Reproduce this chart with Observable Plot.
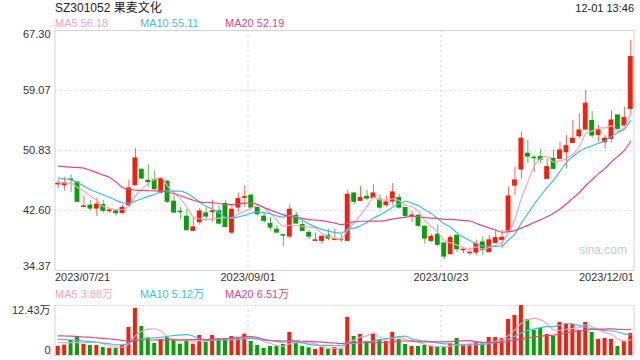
<!DOCTYPE html>
<html><head><meta charset="utf-8">
<script src="https://cdn.jsdelivr.net/npm/d3@7"></script>
<script src="https://cdn.jsdelivr.net/npm/@observablehq/plot@0.6"></script>
<style>
body{margin:0;background:#fff;}
#wrap{position:relative;width:640px;height:360px;overflow:hidden;font-family:"Liberation Sans",Arial,"Noto Sans CJK SC",sans-serif;}
.t{position:absolute;white-space:nowrap;line-height:1;}
#main,#vol{position:absolute;left:0;}
#main{top:0;} #vol{top:300px;}
</style></head><body><div id="wrap"><div id="main"></div><div id="vol"></div></div>
<script>
// ---- data ----
const title = "SZ301052 果麦文化";
const stamp = "12-01 13:46";
const monthDays = [
  ["2023/07", [21,24,25,26,27,28,31]],
  ["2023/08", [1,2,3,4,7,8,9,10,11,14,15,16,17,18,21,22,23,24,25,28,29,30,31]],
  ["2023/09", [1,4,5,6,7,8,11,12,13,14,15,18,19,20,21,22,25,26,27,28]],
  ["2023/10", [9,10,11,12,13,16,17,18,19,20,23,24,25,26,27,30,31]],
  ["2023/11", [1,2,3,6,7,8,9,10,13,14,15,16,17,20,21,22,23,24,27,28,29,30]],
  ["2023/12", [1]]
];
const open  = [46.2,46.1,46.85,46.44,43.1,43.25,42.88,43.34,42.52,42.46,42.24,43.34,46.08,48.18,46.67,46.77,45.07,46.54,43.8,42.42,
  41.74,39.82,41.0,42.19,42.38,42.46,43.48,39.58,43.01,44.35,44.62,42.93,41.74,40.73,39.95,39.22,39.03,41.87,40.59,39.5,
  38.44,38.44,39.13,38.56,38.62,38.44,44.93,43.93,44.48,44.3,44.07,43.34,43.84,44.3,42.93,41.78,41.87,40.36,38.44,39.27,
  38.07,36.62,39.13,37.15,36.76,36.84,38.21,36.89,38.17,38.58,39.86,46.03,48.23,50.38,49.83,49.92,46.95,49.69,49.69,50.6,
  51.88,52.8,53.71,54.87,52.98,51.98,52.44,55.63,54.26,56.55];
const high  = [46.77,47.13,47.45,46.5,44.62,44.0,44.3,44.0,42.87,42.65,43.34,46.77,51.16,48.3,48.87,48.05,47.04,46.7,44.62,43.01,
  42.79,41.56,42.9,43.01,44.03,43.15,43.93,43.48,45.0,45.99,44.85,43.0,42.33,41.64,40.5,39.3,43.38,42.33,41.19,39.91,
  39.5,39.13,40.05,40.05,39.36,45.4,44.93,45.9,45.4,46.13,44.75,44.62,46.3,44.85,42.93,42.56,42.0,40.5,39.36,40.64,
  38.07,39.13,39.22,37.53,37.44,38.54,38.99,39.17,39.86,39.86,45.81,48.55,53.35,52.2,50.14,51.0,49.69,50.88,51.98,52.89,
  54.94,55.87,59.07,56.19,54.26,52.89,56.32,55.73,56.78,65.92];
const low   = [45.62,45.3,45.07,43.66,43.05,42.56,41.78,42.19,42.24,41.83,42.2,43.15,45.99,46.9,45.76,45.44,44.85,43.6,42.3,41.42,
  39.82,39.68,40.6,41.09,41.05,40.64,40.18,39.27,42.33,43.01,42.79,41.74,40.82,39.82,39.45,37.62,38.68,40.73,39.72,38.58,
  38.35,37.99,38.44,38.44,38.21,38.44,43.38,43.93,43.93,44.3,42.7,43.01,43.25,42.79,41.56,40.95,40.27,37.99,38.21,37.62,
  35.8,36.52,36.84,36.7,36.39,36.39,36.39,36.8,38.03,37.35,39.72,44.66,46.95,48.99,47.77,48.99,46.95,48.32,49.69,48.32,
  51.88,52.44,53.71,52.53,51.98,51.03,51.88,53.81,54.26,55.55];
const close = [46.25,46.3,46.78,43.8,43.15,42.88,43.38,42.56,42.6,42.24,42.93,45.62,49.73,46.99,46.5,45.53,46.9,43.8,42.33,42.38,
  39.91,40.27,42.46,41.78,42.46,40.82,40.36,42.7,44.16,44.42,43.01,42.1,41.19,40.27,39.58,39.17,42.7,40.82,39.82,39.03,
  38.49,38.99,38.76,38.6,38.55,44.75,43.8,44.3,44.25,44.93,43.01,43.7,45.07,43.01,41.87,41.9,40.5,38.76,38.99,37.9,
  36.29,38.81,37.3,37.2,36.8,37.99,37.17,38.49,38.81,38.85,44.52,46.72,52.44,50.01,49.79,49.56,48.55,48.32,50.83,51.42,
  52.44,53.57,57.24,52.89,53.57,52.44,54.94,53.81,55.27,63.64];
// volume in 万 shares
const volume = [2.24,2.57,3.73,4.73,2.74,2.49,2.49,1.99,1.74,1.74,2.49,6.97,11.69,7.21,4.39,2.99,3.98,4.48,3.81,2.82,
  3.73,2.82,4.98,3.23,4.98,4.06,3.9,4.73,4.39,5.31,3.48,2.49,1.74,2.24,2.24,2.74,5.72,3.07,2.24,1.91,
  1.49,1.99,1.49,1.99,1.49,9.45,4.73,5.22,3.48,5.22,3.98,3.48,5.72,3.98,2.74,2.24,2.24,2.49,2.24,1.99,
  1.99,2.9,4.23,2.74,2.65,3.48,2.9,4.48,4.48,4.23,8.96,9.95,12.43,8.96,6.22,6.72,5.22,4.73,8.21,7.79,
  7.79,6.22,8.21,5.72,3.98,4.23,3.98,2.24,3.48,5.47];
// moving-average values at the left edge (they depend on days before the window)
const ma5Head  = [46.44,46.4,46.36,45.76];
const ma10Head = [47.04,46.92,46.81,46.44,45.95,45.44,45.1,44.75,44.4];
const ma20Head = [48.69,48.62,48.55,48.5,48.42,48.1,47.8,47.45,47.13,46.5,45.76,45.5,45.4,45.35,45.32,45.3,45.3,45.1,44.9];
const vma5Head  = [3.25,3.2,3.2,3.2];
const vma10Head = [4.06,3.95,3.85,3.75,3.6,3.45,3.3,3.1,2.9];
const vma20Head = [4.9,4.85,4.8,4.7,4.6,4.5,4.4,4.25,4.1,3.95,3.75,3.55,3.8,3.85,3.85,3.85,3.9,3.9,3.88];
const yTicks = [34.37, 42.60, 50.83, 59.07, 67.30];
const volMax = 12.43;
const volTickLabel = "12.43万";
const tickDates = ["2023/07/21", "2023/09/01", "2023/10/23", "2023/12/01"];
const maNames = ["MA5", "MA10", "MA20"];
const maLegend = ["56.18", "55.11", "52.19"];
const vmaLegend = ["3.88万", "5.12万", "6.51万"];

// ---- build ----
const UP = "#f2200c", DN = "#08a008";
const MA_COL = ["#f7a3c1", "#3dbfe3", "#e8467c"];
const dates = monthDays.flatMap(([m, ds]) => ds.map(d => m + "/" + String(d).padStart(2, "0")));
const N = close.length;
function rolling(arr, k, head) {
  return arr.map((_, i) => i < k - 1 ? head[i] : d3.mean(arr.slice(i - k + 1, i + 1)));
}
const ma = [rolling(close, 5, ma5Head), rolling(close, 10, ma10Head), rolling(close, 20, ma20Head)];
const vma = [rolling(volume, 5, vma5Head), rolling(volume, 10, vma10Head), rolling(volume, 20, vma20Head)];
const rows = d3.range(N).map(i => ({
  i, o: open[i], h: high[i], l: low[i], c: close[i], v: volume[i],
  col: close[i] >= open[i] ? UP : DN, m5: ma[0][i], m10: ma[1][i], m20: ma[2][i],
  v5: vma[0][i], v10: vma[1][i], v20: vma[2][i]
}));
const tickIdx = tickDates.map(d => dates.indexOf(d));
const font = '"Liberation Sans",Arial,"Noto Sans CJK SC",sans-serif';

const main = Plot.plot({
  width: 640, height: 290,
  marginLeft: 54.5, marginRight: 6.5, marginTop: 30, marginBottom: 20,
  style: {fontFamily: font, fontSize: "11px", color: "#333", background: "transparent", overflow: "visible"},
  x: {type: "linear", domain: [0, N], axis: null},
  y: {domain: [yTicks[0], yTicks[yTicks.length - 1]], axis: null},
  color: {type: "identity"},
  marks: [
    Plot.ruleY(yTicks.slice(1, -1), {stroke: "#d9d9d9", strokeDasharray: "2,3", strokeWidth: 1.2}),
    Plot.ruleX(tickIdx.slice(1, -1), {stroke: "#d9d9d9", strokeDasharray: "2,3", strokeWidth: 1.2}),
    Plot.frame({stroke: "#d4d4d4"}),
    Plot.text(["sina.com"], {frameAnchor: "bottom-right", dx: -7, dy: -17, fill: "#c9c9c9", fontSize: 12, textAnchor: "end"}),
    Plot.ruleX(rows, {x: d => d.i + 0.5, y1: "l", y2: "h", stroke: "col", strokeOpacity: 0.7}),
    Plot.rect(rows, {x1: d => d.i + 0.12, x2: d => d.i + 0.88, y1: "o", y2: "c", fill: "col", insetTop: -0.6, insetBottom: -0.6}),
    Plot.line(rows, {x: d => d.i + 0.5, y: "m5", stroke: MA_COL[0], strokeWidth: 1.2, curve: "monotone-x"}),
    Plot.line(rows, {x: d => d.i + 0.5, y: "m10", stroke: MA_COL[1], strokeWidth: 1.2, curve: "monotone-x"}),
    Plot.line(rows, {x: d => d.i + 0.5, y: "m20", stroke: MA_COL[2], strokeWidth: 1.2, curve: "monotone-x"}),
    // y labels
    Plot.text([yTicks[yTicks.length - 1]], {y: d => d, text: d => d.toFixed(2), frameAnchor: "left", dx: -4.5, textAnchor: "end", lineAnchor: "top", fill: "#333"}),
    Plot.text(yTicks.slice(1, -1), {y: d => d, text: d => d.toFixed(2), frameAnchor: "left", dx: -4.5, textAnchor: "end", lineAnchor: "middle", fill: "#333"}),
    Plot.text([yTicks[0]], {y: d => d, text: d => d.toFixed(2), frameAnchor: "left", dx: -4.5, textAnchor: "end", lineAnchor: "bottom", dy: -1, fill: "#333"}),
    // x labels
    Plot.text([tickDates[0]], {x: () => 0, text: d => d, frameAnchor: "bottom", textAnchor: "start", lineAnchor: "top", dy: 3, fill: "#333"}),
    Plot.text(tickDates.slice(1, -1), {x: d => dates.indexOf(d), text: d => d, frameAnchor: "bottom", textAnchor: "middle", lineAnchor: "top", dy: 3, fill: "#333"}),
    Plot.text([tickDates[tickDates.length - 1]], {x: () => N, text: d => d, frameAnchor: "bottom", textAnchor: "end", lineAnchor: "top", dy: 3, fill: "#333"})
  ]
});
document.getElementById("main").appendChild(main);

const vol = Plot.plot({
  width: 640, height: 60,
  marginLeft: 54.5, marginRight: 6.5, marginTop: 5, marginBottom: 5,
  style: {fontFamily: font, fontSize: "11px", color: "#333", background: "transparent", overflow: "visible"},
  x: {type: "linear", domain: [0, N], axis: null},
  y: {domain: [0, volMax], axis: null},
  color: {type: "identity"},
  marks: [
    Plot.ruleY([0, volMax], {stroke: "#cfcfcf", strokeDasharray: "2,2", strokeWidth: 1.2}),
    Plot.ruleX(tickIdx.slice(1, -1), {stroke: "#d9d9d9", strokeDasharray: "2,3", strokeWidth: 1.2}),
    Plot.ruleX([0, N], {stroke: "#d4d4d4"}),
    Plot.rectY(rows, {x1: d => d.i + 0.19, x2: d => d.i + 0.81, y1: 0, y2: "v", fill: "col"}),
    Plot.line(rows, {x: d => d.i + 0.5, y: "v5", stroke: MA_COL[0], strokeWidth: 1.2, curve: "monotone-x"}),
    Plot.line(rows, {x: d => d.i + 0.5, y: "v10", stroke: MA_COL[1], strokeWidth: 1.2, curve: "monotone-x"}),
    Plot.line(rows, {x: d => d.i + 0.5, y: "v20", stroke: MA_COL[2], strokeWidth: 1.2, curve: "monotone-x"}),
    Plot.text([volMax], {y: d => d, text: () => volTickLabel, frameAnchor: "left", dx: -4.5, textAnchor: "end", lineAnchor: "top", dy: 1, fill: "#333"}),
    Plot.text([0], {y: d => d, text: () => "0", frameAnchor: "left", dx: -4.5, textAnchor: "end", lineAnchor: "bottom", dy: -2, fill: "#333"})
  ]
});
document.getElementById("vol").appendChild(vol);

// ---- header / legends ----
const wrap = document.getElementById("wrap");
function addText(txt, left, top, size, color, right) {
  const el = document.createElement("div");
  el.className = "t";
  el.textContent = txt;
  el.style.top = top + "px";
  el.style.fontSize = size + "px";
  el.style.color = color;
  if (right != null) el.style.right = right + "px"; else el.style.left = left + "px";
  wrap.appendChild(el);
}
addText(title, 55, 2, 12, "#222");
addText(stamp, null, 3, 11, "#222", 6);
const legendX = [55, 140, 225];
maNames.forEach((n, k) => addText(n + " " + maLegend[k], legendX[k], 18, 11, MA_COL[k]));
maNames.forEach((n, k) => addText(n + " " + vmaLegend[k], legendX[k], 289, 11, MA_COL[k]));
</script></body></html>
